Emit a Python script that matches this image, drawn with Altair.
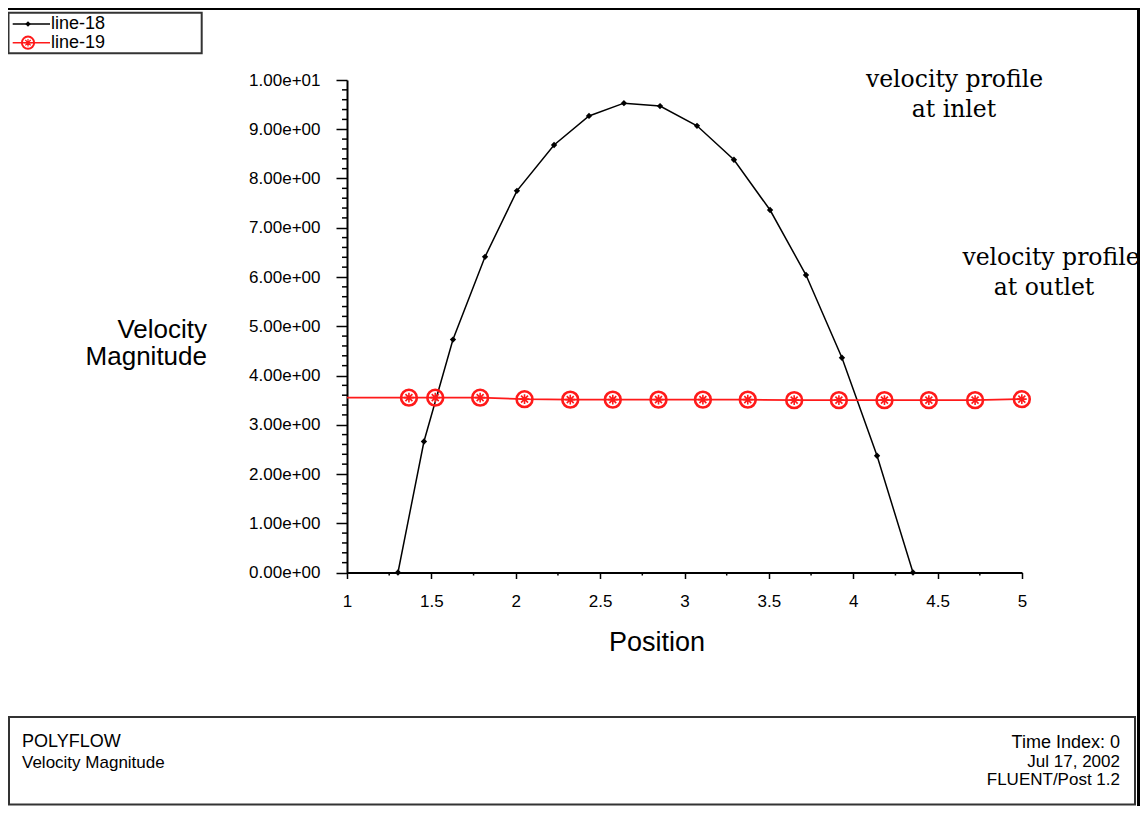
import altair as alt
import pandas as pd

# ---- data ----
line18_x = [1.302, 1.456, 1.628, 1.818, 2.007, 2.227, 2.434, 2.641, 2.855, 3.074,
            3.293, 3.507, 3.720, 3.933, 4.141, 4.354]
line18_y = [0.00, 2.66, 4.73, 6.41, 7.75, 8.68, 9.27, 9.53, 9.47, 9.07,
            8.38, 7.36, 6.04, 4.36, 2.37, 0.00]

line19_x = [1.000, 1.367, 1.523, 1.789, 2.052, 2.323, 2.575, 2.846, 3.109, 3.375,
            3.650, 3.915, 4.185, 4.448, 4.722, 4.999]
line19_y = [3.55, 3.55, 3.55, 3.55, 3.52, 3.51, 3.51, 3.51, 3.51, 3.51,
            3.50, 3.50, 3.50, 3.50, 3.50, 3.52]
line19_marker = [False] + [True] * 15

y_major = [0, 1, 2, 3, 4, 5, 6, 7, 8, 9, 10]
y_minor = [0.2, 0.4, 0.6, 0.8, 1.2, 1.4, 1.6, 1.8, 2.2, 2.4, 2.6, 2.8,
           3.2, 3.4, 3.6, 3.8, 4.2, 4.4, 4.6, 4.8, 5.2, 5.4, 5.6, 5.8,
           6.2, 6.4, 6.6, 6.8, 7.2, 7.4, 7.6, 7.8, 8.2, 8.4, 8.6, 8.8,
           9.2, 9.4, 9.6, 9.8]
x_major = [1, 1.5, 2, 2.5, 3, 3.5, 4, 4.5, 5]
x_minor = [1.25, 1.75, 2.25, 2.75, 3.25, 3.75, 4.25, 4.75]

legend_labels = ["line-18", "line-19"]
y_title = ["Velocity", "Magnitude"]
x_title = "Position"
note_inlet = ["velocity profile", "at inlet"]
note_outlet = ["velocity profile", "at outlet"]
footer_left = ["POLYFLOW", "Velocity Magnitude"]
footer_right = ["Time Index: 0", "Jul 17, 2002", "FLUENT/Post 1.2"]

# ---- layout ----
W, H = 675, 492.5
FONT = "Liberation Sans"
SERIF = "DejaVu Serif"
RED = "#ff1a1a"

df18 = pd.DataFrame({"x": line18_x, "y": line18_y})
df19 = pd.DataFrame({"x": line19_x, "y": line19_y, "m": line19_marker})

xs = alt.Scale(domain=[1, 5], nice=False, zero=False)
ys = alt.Scale(domain=[0, 10], nice=False, zero=False)

xaxis = alt.Axis(values=x_major, format="~g", title=None, grid=False,
                 domainColor="black", domainWidth=2, tickColor="black",
                 tickWidth=1.5, tickSize=6, labelFont=FONT, labelFontSize=17,
                 labelColor="black", labelBaseline="middle", labelPadding=23,
                 labelFlush=False)
yaxis = alt.Axis(values=y_major, title=None, grid=False,
                 labelExpr="replace(format(datum.value, '.2e'), 'e+', 'e+0')",
                 domainColor="black", domainWidth=2, tickColor="black",
                 tickWidth=1.5, tickSize=11, labelFont=FONT, labelFontSize=17,
                 labelColor="black", labelPadding=16, labelFlush=False)

X = alt.X("x:Q", scale=xs, axis=xaxis)
Y = alt.Y("y:Q", scale=ys, axis=yaxis)

l18 = alt.Chart(df18).mark_line(color="black", strokeWidth=1.5).encode(x=X, y=Y)
p18 = alt.Chart(df18).mark_point(shape="diamond", filled=True, size=40,
                                 color="black", opacity=1).encode(x=X, y=Y)
l19 = alt.Chart(df19).mark_line(color=RED, strokeWidth=1.8).encode(x=X, y=Y)
c19 = alt.Chart(df19).transform_filter("datum.m").mark_point(
    shape="circle", filled=False, size=250, color=RED, strokeWidth=2.6,
    opacity=1).encode(x=X, y=Y)
STAR = "M-0.62,0L0.62,0M0,-0.62L0,0.62M-0.44,-0.44L0.44,0.44M-0.44,0.44L0.44,-0.44"
s19 = alt.Chart(df19).transform_filter("datum.m").mark_point(
    shape=STAR, filled=False, size=250, color=RED, strokeWidth=1.6,
    opacity=1).encode(x=X, y=Y)

# minor ticks (same field names / axes so the axes merge)
ymin = alt.Chart(pd.DataFrame({"y": y_minor})).mark_rule(
    color="black", strokeWidth=1.5).encode(
    y=Y, x=alt.value(-5), x2=alt.value(0))
xmin = alt.Chart(pd.DataFrame({"x": x_minor})).mark_rule(
    color="black", strokeWidth=1.5).encode(
    x=X, y=alt.value(H), y2=alt.value(H + 3))

one = pd.DataFrame({"a": [0]})


def txt(s, x, y, size=17, font=FONT, align="left", color="black"):
    return alt.Chart(one).mark_text(
        text=s, font=font, fontSize=size, align=align, baseline="middle",
        color=color).encode(x=alt.value(x), y=alt.value(y))


def box(x1, y1, x2, y2, color="#333333", width=2):
    return alt.Chart(one).mark_rect(
        fillOpacity=0, stroke=color, strokeWidth=width).encode(
        x=alt.value(x1), x2=alt.value(x2), y=alt.value(y1), y2=alt.value(y2))


def hline(x1, x2, y, color="black", width=1.5):
    return alt.Chart(one).mark_rule(color=color, strokeWidth=width).encode(
        x=alt.value(x1), x2=alt.value(x2), y=alt.value(y))


def vline(x, y1, y2, color="black", width=1.5):
    return alt.Chart(one).mark_rule(color=color, strokeWidth=width).encode(
        x=alt.value(x), y=alt.value(y1), y2=alt.value(y2))


deco = [
    # outer frame (top & right)
    hline(-339, 793, -71.5, width=3),
    vline(791.5, -72, 727, width=3),
    # legend box
    box(-338.5, -67.3, -145.3, -26.7),
    hline(-334.3, -297, -56, color="black", width=1.5),
    alt.Chart(one).mark_point(shape="diamond", filled=True, size=30,
                              color="black", opacity=1).encode(
        x=alt.value(-319), y=alt.value(-56)),
    hline(-334.3, -297, -37.3, color=RED, width=1.5),
    alt.Chart(one).mark_point(shape="circle", filled=False, size=150,
                              color=RED, strokeWidth=2, opacity=1).encode(
        x=alt.value(-319), y=alt.value(-37.3)),
    alt.Chart(one).mark_point(shape=STAR, filled=False, size=150,
                              color=RED, strokeWidth=1.2, opacity=1).encode(
        x=alt.value(-319), y=alt.value(-37.3)),
    txt(legend_labels[0], -296, -56, size=18),
    txt(legend_labels[1], -296, -37.3, size=18),
    # axis titles
    txt(y_title[0], -140, 250, size=26, align="right"),
    txt(y_title[1], -140, 277, size=26, align="right"),
    txt(x_title, 310, 563, size=27, align="center"),
    # annotations
    txt(note_inlet[0], 607.5, 0, size=23.5, font=SERIF, align="center"),
    txt(note_inlet[1], 607, 30, size=23.5, font=SERIF, align="center"),
    txt(note_outlet[0], 704, 178, size=23.5, font=SERIF, align="center"),
    txt(note_outlet[1], 697, 208, size=23.5, font=SERIF, align="center"),
    # footer box
    box(-338, 637, 788, 724.5),
    txt(footer_left[0], -325, 661.5, size=18),
    txt(footer_left[1], -325, 683, size=17),
    txt(footer_right[0], 773, 663, size=18, align="right"),
    txt(footer_right[1], 773, 681.5, size=17, align="right"),
    txt(footer_right[2], 773, 700, size=17, align="right"),
]

chart = alt.layer(l18, l19, c19, s19, p18, ymin, xmin, *deco).properties(
    width=W, height=H,
    autosize=alt.AutoSizeParams(type="none"),
    padding={"left": 339, "top": 72, "right": 118, "bottom": 233.5},
    background="white",
).configure_view(strokeWidth=0)

chart.save("out.html", embed_options={"renderer": "svg", "actions": False})
